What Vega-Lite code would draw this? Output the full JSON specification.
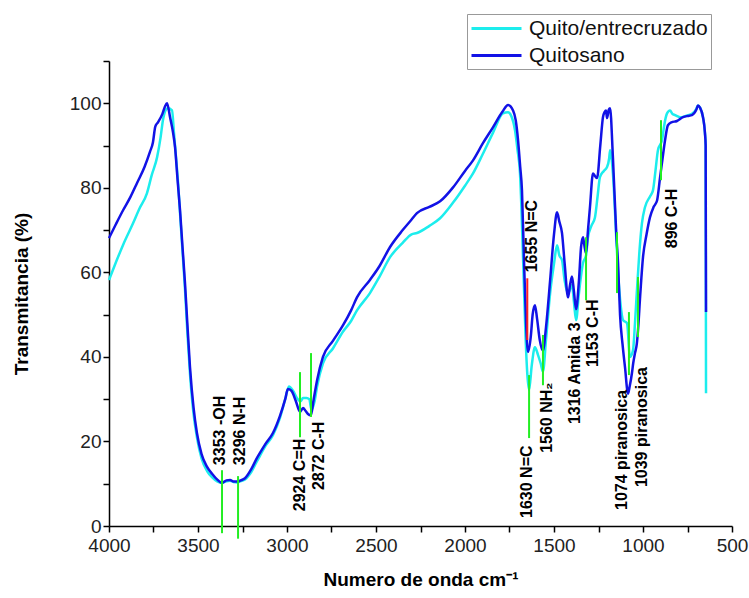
{
  "$schema": "https://vega.github.io/schema/vega-lite/v6.json",
  "width": 623,
  "height": 465,
  "autosize": {"type": "none"},
  "padding": {"left": 109, "top": 61, "right": 17, "bottom": 72},
  "background": "white",
  "config": {
    "view": {"stroke": null},
    "font": "Liberation Sans",
    "axis": {
      "grid": false,
      "domainColor": "#000",
      "domainWidth": 1.5,
      "tickColor": "#000",
      "tickWidth": 1.5,
      "tickSize": 6,
      "labelFont": "Liberation Sans",
      "labelFontSize": 19,
      "labelColor": "#222",
      "titleFont": "Liberation Sans",
      "titleFontSize": 19,
      "titleFontWeight": "bold",
      "titleColor": "#000"
    }
  },
  "datasets": {
    "spectra": [
      {"series": "Quito/entrecruzado", "wn": 4000, "t": 58.2},
      {"series": "Quito/entrecruzado", "wn": 3960, "t": 62.5},
      {"series": "Quito/entrecruzado", "wn": 3921, "t": 66.5},
      {"series": "Quito/entrecruzado", "wn": 3865, "t": 71.6},
      {"series": "Quito/entrecruzado", "wn": 3830, "t": 75},
      {"series": "Quito/entrecruzado", "wn": 3787, "t": 78.7},
      {"series": "Quito/entrecruzado", "wn": 3760, "t": 83},
      {"series": "Quito/entrecruzado", "wn": 3730, "t": 87.2},
      {"series": "Quito/entrecruzado", "wn": 3710, "t": 92},
      {"series": "Quito/entrecruzado", "wn": 3697, "t": 96},
      {"series": "Quito/entrecruzado", "wn": 3680, "t": 98.5},
      {"series": "Quito/entrecruzado", "wn": 3669, "t": 98.8},
      {"series": "Quito/entrecruzado", "wn": 3646, "t": 98.3},
      {"series": "Quito/entrecruzado", "wn": 3635, "t": 93},
      {"series": "Quito/entrecruzado", "wn": 3625, "t": 88},
      {"series": "Quito/entrecruzado", "wn": 3610, "t": 80},
      {"series": "Quito/entrecruzado", "wn": 3601, "t": 74},
      {"series": "Quito/entrecruzado", "wn": 3587, "t": 65},
      {"series": "Quito/entrecruzado", "wn": 3573, "t": 56},
      {"series": "Quito/entrecruzado", "wn": 3560, "t": 46},
      {"series": "Quito/entrecruzado", "wn": 3545, "t": 36},
      {"series": "Quito/entrecruzado", "wn": 3525, "t": 26.5},
      {"series": "Quito/entrecruzado", "wn": 3506, "t": 21},
      {"series": "Quito/entrecruzado", "wn": 3480, "t": 16},
      {"series": "Quito/entrecruzado", "wn": 3449, "t": 13},
      {"series": "Quito/entrecruzado", "wn": 3420, "t": 11.5},
      {"series": "Quito/entrecruzado", "wn": 3390, "t": 10.5},
      {"series": "Quito/entrecruzado", "wn": 3365, "t": 10.2},
      {"series": "Quito/entrecruzado", "wn": 3340, "t": 10.6},
      {"series": "Quito/entrecruzado", "wn": 3320, "t": 10.7},
      {"series": "Quito/entrecruzado", "wn": 3300, "t": 10.4},
      {"series": "Quito/entrecruzado", "wn": 3281, "t": 10.3},
      {"series": "Quito/entrecruzado", "wn": 3260, "t": 10.6},
      {"series": "Quito/entrecruzado", "wn": 3236, "t": 11},
      {"series": "Quito/entrecruzado", "wn": 3200, "t": 12.8},
      {"series": "Quito/entrecruzado", "wn": 3170, "t": 15.2},
      {"series": "Quito/entrecruzado", "wn": 3152, "t": 16.6},
      {"series": "Quito/entrecruzado", "wn": 3120, "t": 19},
      {"series": "Quito/entrecruzado", "wn": 3079, "t": 21.5},
      {"series": "Quito/entrecruzado", "wn": 3040, "t": 25.5},
      {"series": "Quito/entrecruzado", "wn": 3010, "t": 30},
      {"series": "Quito/entrecruzado", "wn": 2989, "t": 33},
      {"series": "Quito/entrecruzado", "wn": 2966, "t": 32},
      {"series": "Quito/entrecruzado", "wn": 2940, "t": 30},
      {"series": "Quito/entrecruzado", "wn": 2924, "t": 29.5},
      {"series": "Quito/entrecruzado", "wn": 2910, "t": 30.3},
      {"series": "Quito/entrecruzado", "wn": 2890, "t": 30.3},
      {"series": "Quito/entrecruzado", "wn": 2875, "t": 30},
      {"series": "Quito/entrecruzado", "wn": 2862, "t": 27.5},
      {"series": "Quito/entrecruzado", "wn": 2845, "t": 29.5},
      {"series": "Quito/entrecruzado", "wn": 2831, "t": 33},
      {"series": "Quito/entrecruzado", "wn": 2798, "t": 38.5},
      {"series": "Quito/entrecruzado", "wn": 2742, "t": 42},
      {"series": "Quito/entrecruzado", "wn": 2685, "t": 46},
      {"series": "Quito/entrecruzado", "wn": 2640, "t": 48.5},
      {"series": "Quito/entrecruzado", "wn": 2607, "t": 51},
      {"series": "Quito/entrecruzado", "wn": 2534, "t": 55.1},
      {"series": "Quito/entrecruzado", "wn": 2480, "t": 59},
      {"series": "Quito/entrecruzado", "wn": 2421, "t": 63.6},
      {"series": "Quito/entrecruzado", "wn": 2350, "t": 67},
      {"series": "Quito/entrecruzado", "wn": 2300, "t": 69},
      {"series": "Quito/entrecruzado", "wn": 2270, "t": 69.3},
      {"series": "Quito/entrecruzado", "wn": 2200, "t": 71},
      {"series": "Quito/entrecruzado", "wn": 2140, "t": 72.8},
      {"series": "Quito/entrecruzado", "wn": 2067, "t": 76.5},
      {"series": "Quito/entrecruzado", "wn": 2000, "t": 80.5},
      {"series": "Quito/entrecruzado", "wn": 1955, "t": 83.4},
      {"series": "Quito/entrecruzado", "wn": 1900, "t": 88},
      {"series": "Quito/entrecruzado", "wn": 1843, "t": 93},
      {"series": "Quito/entrecruzado", "wn": 1787, "t": 97.6},
      {"series": "Quito/entrecruzado", "wn": 1758, "t": 97.9},
      {"series": "Quito/entrecruzado", "wn": 1740, "t": 97},
      {"series": "Quito/entrecruzado", "wn": 1719, "t": 93.6},
      {"series": "Quito/entrecruzado", "wn": 1705, "t": 89},
      {"series": "Quito/entrecruzado", "wn": 1691, "t": 83.4},
      {"series": "Quito/entrecruzado", "wn": 1674, "t": 63.6},
      {"series": "Quito/entrecruzado", "wn": 1660, "t": 45},
      {"series": "Quito/entrecruzado", "wn": 1650, "t": 36},
      {"series": "Quito/entrecruzado", "wn": 1640, "t": 32.2},
      {"series": "Quito/entrecruzado", "wn": 1625, "t": 38},
      {"series": "Quito/entrecruzado", "wn": 1607, "t": 42.3},
      {"series": "Quito/entrecruzado", "wn": 1590, "t": 40.5},
      {"series": "Quito/entrecruzado", "wn": 1575, "t": 38.5},
      {"series": "Quito/entrecruzado", "wn": 1562, "t": 36.5},
      {"series": "Quito/entrecruzado", "wn": 1545, "t": 44},
      {"series": "Quito/entrecruzado", "wn": 1522, "t": 55},
      {"series": "Quito/entrecruzado", "wn": 1500, "t": 62},
      {"series": "Quito/entrecruzado", "wn": 1483, "t": 66.4},
      {"series": "Quito/entrecruzado", "wn": 1470, "t": 64},
      {"series": "Quito/entrecruzado", "wn": 1455, "t": 62.9},
      {"series": "Quito/entrecruzado", "wn": 1440, "t": 58},
      {"series": "Quito/entrecruzado", "wn": 1421, "t": 55},
      {"series": "Quito/entrecruzado", "wn": 1410, "t": 56},
      {"series": "Quito/entrecruzado", "wn": 1399, "t": 57},
      {"series": "Quito/entrecruzado", "wn": 1388, "t": 53},
      {"series": "Quito/entrecruzado", "wn": 1376, "t": 48.7},
      {"series": "Quito/entrecruzado", "wn": 1360, "t": 55},
      {"series": "Quito/entrecruzado", "wn": 1337, "t": 62.2},
      {"series": "Quito/entrecruzado", "wn": 1320, "t": 64},
      {"series": "Quito/entrecruzado", "wn": 1309, "t": 68.3},
      {"series": "Quito/entrecruzado", "wn": 1290, "t": 71},
      {"series": "Quito/entrecruzado", "wn": 1270, "t": 73},
      {"series": "Quito/entrecruzado", "wn": 1255, "t": 78},
      {"series": "Quito/entrecruzado", "wn": 1242, "t": 82.5},
      {"series": "Quito/entrecruzado", "wn": 1220, "t": 84},
      {"series": "Quito/entrecruzado", "wn": 1202, "t": 84.9},
      {"series": "Quito/entrecruzado", "wn": 1190, "t": 87},
      {"series": "Quito/entrecruzado", "wn": 1185, "t": 88.9},
      {"series": "Quito/entrecruzado", "wn": 1169, "t": 83.4},
      {"series": "Quito/entrecruzado", "wn": 1150, "t": 68},
      {"series": "Quito/entrecruzado", "wn": 1140, "t": 60},
      {"series": "Quito/entrecruzado", "wn": 1125, "t": 52},
      {"series": "Quito/entrecruzado", "wn": 1112, "t": 48.7},
      {"series": "Quito/entrecruzado", "wn": 1090, "t": 48},
      {"series": "Quito/entrecruzado", "wn": 1073, "t": 40},
      {"series": "Quito/entrecruzado", "wn": 1056, "t": 41.6},
      {"series": "Quito/entrecruzado", "wn": 1045, "t": 48},
      {"series": "Quito/entrecruzado", "wn": 1034, "t": 55.8},
      {"series": "Quito/entrecruzado", "wn": 1020, "t": 65},
      {"series": "Quito/entrecruzado", "wn": 1006, "t": 71.6},
      {"series": "Quito/entrecruzado", "wn": 989, "t": 75.4},
      {"series": "Quito/entrecruzado", "wn": 960, "t": 78},
      {"series": "Quito/entrecruzado", "wn": 944, "t": 79.4},
      {"series": "Quito/entrecruzado", "wn": 930, "t": 84},
      {"series": "Quito/entrecruzado", "wn": 916, "t": 88.9},
      {"series": "Quito/entrecruzado", "wn": 893, "t": 91.3},
      {"series": "Quito/entrecruzado", "wn": 880, "t": 95},
      {"series": "Quito/entrecruzado", "wn": 865, "t": 97.6},
      {"series": "Quito/entrecruzado", "wn": 848, "t": 98.3},
      {"series": "Quito/entrecruzado", "wn": 835, "t": 97.5},
      {"series": "Quito/entrecruzado", "wn": 820, "t": 97.2},
      {"series": "Quito/entrecruzado", "wn": 792, "t": 96.7},
      {"series": "Quito/entrecruzado", "wn": 760, "t": 97},
      {"series": "Quito/entrecruzado", "wn": 725, "t": 97.5},
      {"series": "Quito/entrecruzado", "wn": 700, "t": 98.7},
      {"series": "Quito/entrecruzado", "wn": 691, "t": 99.5},
      {"series": "Quito/entrecruzado", "wn": 680, "t": 99},
      {"series": "Quito/entrecruzado", "wn": 663, "t": 96.7},
      {"series": "Quito/entrecruzado", "wn": 652, "t": 93},
      {"series": "Quito/entrecruzado", "wn": 648, "t": 90},
      {"series": "Quito/entrecruzado", "wn": 646, "t": 31.4},
      {"series": "Quitosano", "wn": 4000, "t": 68.1},
      {"series": "Quitosano", "wn": 3960, "t": 71.5},
      {"series": "Quitosano", "wn": 3921, "t": 74.7},
      {"series": "Quitosano", "wn": 3880, "t": 77.8},
      {"series": "Quitosano", "wn": 3843, "t": 81.1},
      {"series": "Quitosano", "wn": 3800, "t": 85},
      {"series": "Quitosano", "wn": 3770, "t": 88.5},
      {"series": "Quitosano", "wn": 3753, "t": 90.8},
      {"series": "Quitosano", "wn": 3740, "t": 94.5},
      {"series": "Quitosano", "wn": 3725, "t": 95.5},
      {"series": "Quitosano", "wn": 3700, "t": 97.5},
      {"series": "Quitosano", "wn": 3685, "t": 99.3},
      {"series": "Quitosano", "wn": 3674, "t": 100},
      {"series": "Quitosano", "wn": 3657, "t": 96.7},
      {"series": "Quitosano", "wn": 3640, "t": 93},
      {"series": "Quitosano", "wn": 3629, "t": 89.6},
      {"series": "Quitosano", "wn": 3615, "t": 82},
      {"series": "Quitosano", "wn": 3601, "t": 74.7},
      {"series": "Quitosano", "wn": 3587, "t": 66},
      {"series": "Quitosano", "wn": 3573, "t": 57.4},
      {"series": "Quitosano", "wn": 3560, "t": 48},
      {"series": "Quitosano", "wn": 3545, "t": 37.6},
      {"series": "Quitosano", "wn": 3525, "t": 28},
      {"series": "Quitosano", "wn": 3506, "t": 22},
      {"series": "Quitosano", "wn": 3480, "t": 17},
      {"series": "Quitosano", "wn": 3449, "t": 14},
      {"series": "Quitosano", "wn": 3420, "t": 12.3},
      {"series": "Quitosano", "wn": 3390, "t": 10.9},
      {"series": "Quitosano", "wn": 3365, "t": 10.2},
      {"series": "Quitosano", "wn": 3340, "t": 10.8},
      {"series": "Quitosano", "wn": 3320, "t": 10.9},
      {"series": "Quitosano", "wn": 3300, "t": 10.5},
      {"series": "Quitosano", "wn": 3281, "t": 10.5},
      {"series": "Quitosano", "wn": 3260, "t": 10.8},
      {"series": "Quitosano", "wn": 3236, "t": 11.3},
      {"series": "Quitosano", "wn": 3200, "t": 13.5},
      {"series": "Quitosano", "wn": 3170, "t": 16},
      {"series": "Quitosano", "wn": 3152, "t": 17.3},
      {"series": "Quitosano", "wn": 3120, "t": 19.5},
      {"series": "Quitosano", "wn": 3079, "t": 22},
      {"series": "Quitosano", "wn": 3040, "t": 26},
      {"series": "Quitosano", "wn": 3010, "t": 30},
      {"series": "Quitosano", "wn": 2995, "t": 32.4},
      {"series": "Quitosano", "wn": 2975, "t": 32},
      {"series": "Quitosano", "wn": 2950, "t": 29.5},
      {"series": "Quitosano", "wn": 2927, "t": 27},
      {"series": "Quitosano", "wn": 2910, "t": 27.9},
      {"series": "Quitosano", "wn": 2895, "t": 27.2},
      {"series": "Quitosano", "wn": 2882, "t": 26.5},
      {"series": "Quitosano", "wn": 2866, "t": 26.2},
      {"series": "Quitosano", "wn": 2850, "t": 30},
      {"series": "Quitosano", "wn": 2831, "t": 34.5},
      {"series": "Quitosano", "wn": 2798, "t": 40},
      {"series": "Quitosano", "wn": 2742, "t": 43.8},
      {"series": "Quitosano", "wn": 2685, "t": 47.5},
      {"series": "Quitosano", "wn": 2640, "t": 51},
      {"series": "Quitosano", "wn": 2607, "t": 54.1},
      {"series": "Quitosano", "wn": 2534, "t": 58.2},
      {"series": "Quitosano", "wn": 2480, "t": 61.5},
      {"series": "Quitosano", "wn": 2421, "t": 66},
      {"series": "Quitosano", "wn": 2350, "t": 70},
      {"series": "Quitosano", "wn": 2300, "t": 72.5},
      {"series": "Quitosano", "wn": 2270, "t": 74},
      {"series": "Quitosano", "wn": 2200, "t": 75.5},
      {"series": "Quitosano", "wn": 2140, "t": 76.8},
      {"series": "Quitosano", "wn": 2067, "t": 80.1},
      {"series": "Quitosano", "wn": 2000, "t": 84},
      {"series": "Quitosano", "wn": 1955, "t": 86.5},
      {"series": "Quitosano", "wn": 1900, "t": 90.5},
      {"series": "Quitosano", "wn": 1843, "t": 94.3},
      {"series": "Quitosano", "wn": 1790, "t": 98},
      {"series": "Quitosano", "wn": 1758, "t": 99.6},
      {"series": "Quitosano", "wn": 1730, "t": 98.3},
      {"series": "Quitosano", "wn": 1715, "t": 96},
      {"series": "Quitosano", "wn": 1702, "t": 91.3},
      {"series": "Quitosano", "wn": 1690, "t": 85},
      {"series": "Quitosano", "wn": 1680, "t": 79.4},
      {"series": "Quitosano", "wn": 1669, "t": 63.6},
      {"series": "Quitosano", "wn": 1657, "t": 48},
      {"series": "Quitosano", "wn": 1646, "t": 41.2},
      {"series": "Quitosano", "wn": 1630, "t": 45},
      {"series": "Quitosano", "wn": 1620, "t": 50},
      {"series": "Quitosano", "wn": 1607, "t": 52.2},
      {"series": "Quitosano", "wn": 1595, "t": 49},
      {"series": "Quitosano", "wn": 1580, "t": 44},
      {"series": "Quitosano", "wn": 1562, "t": 41.5},
      {"series": "Quitosano", "wn": 1545, "t": 47},
      {"series": "Quitosano", "wn": 1522, "t": 58},
      {"series": "Quitosano", "wn": 1500, "t": 69},
      {"series": "Quitosano", "wn": 1483, "t": 74.2},
      {"series": "Quitosano", "wn": 1470, "t": 72},
      {"series": "Quitosano", "wn": 1455, "t": 69.3},
      {"series": "Quitosano", "wn": 1440, "t": 62},
      {"series": "Quitosano", "wn": 1421, "t": 54.1},
      {"series": "Quitosano", "wn": 1410, "t": 57},
      {"series": "Quitosano", "wn": 1399, "t": 59},
      {"series": "Quitosano", "wn": 1388, "t": 55.5},
      {"series": "Quitosano", "wn": 1376, "t": 51.3},
      {"series": "Quitosano", "wn": 1360, "t": 58},
      {"series": "Quitosano", "wn": 1348, "t": 66},
      {"series": "Quitosano", "wn": 1337, "t": 68.3},
      {"series": "Quitosano", "wn": 1330, "t": 66.5},
      {"series": "Quitosano", "wn": 1320, "t": 64.5},
      {"series": "Quitosano", "wn": 1309, "t": 70},
      {"series": "Quitosano", "wn": 1298, "t": 75.4},
      {"series": "Quitosano", "wn": 1281, "t": 83.4},
      {"series": "Quitosano", "wn": 1270, "t": 82.8},
      {"series": "Quitosano", "wn": 1258, "t": 82.3},
      {"series": "Quitosano", "wn": 1240, "t": 90},
      {"series": "Quitosano", "wn": 1225, "t": 96.7},
      {"series": "Quitosano", "wn": 1215, "t": 98},
      {"series": "Quitosano", "wn": 1208, "t": 98.3},
      {"series": "Quitosano", "wn": 1202, "t": 96.5},
      {"series": "Quitosano", "wn": 1192, "t": 98.5},
      {"series": "Quitosano", "wn": 1185, "t": 98.8},
      {"series": "Quitosano", "wn": 1169, "t": 87.2},
      {"series": "Quitosano", "wn": 1150, "t": 69},
      {"series": "Quitosano", "wn": 1140, "t": 62},
      {"series": "Quitosano", "wn": 1129, "t": 50},
      {"series": "Quitosano", "wn": 1115, "t": 43},
      {"series": "Quitosano", "wn": 1101, "t": 37.5},
      {"series": "Quitosano", "wn": 1084, "t": 31.3},
      {"series": "Quitosano", "wn": 1075, "t": 33},
      {"series": "Quitosano", "wn": 1062, "t": 36.2},
      {"series": "Quitosano", "wn": 1055, "t": 38.5},
      {"series": "Quitosano", "wn": 1045, "t": 40.9},
      {"series": "Quitosano", "wn": 1035, "t": 43},
      {"series": "Quitosano", "wn": 1028, "t": 46.3},
      {"series": "Quitosano", "wn": 1015, "t": 55},
      {"series": "Quitosano", "wn": 1000, "t": 63.6},
      {"series": "Quitosano", "wn": 980, "t": 69},
      {"series": "Quitosano", "wn": 961, "t": 73},
      {"series": "Quitosano", "wn": 940, "t": 75.5},
      {"series": "Quitosano", "wn": 921, "t": 77},
      {"series": "Quitosano", "wn": 904, "t": 82.5},
      {"series": "Quitosano", "wn": 890, "t": 87},
      {"series": "Quitosano", "wn": 876, "t": 91.3},
      {"series": "Quitosano", "wn": 860, "t": 94.8},
      {"series": "Quitosano", "wn": 840, "t": 95.5},
      {"series": "Quitosano", "wn": 809, "t": 95.8},
      {"series": "Quitosano", "wn": 775, "t": 96.7},
      {"series": "Quitosano", "wn": 750, "t": 97},
      {"series": "Quitosano", "wn": 725, "t": 97.2},
      {"series": "Quitosano", "wn": 700, "t": 98.5},
      {"series": "Quitosano", "wn": 691, "t": 99.5},
      {"series": "Quitosano", "wn": 680, "t": 99},
      {"series": "Quitosano", "wn": 663, "t": 96.7},
      {"series": "Quitosano", "wn": 652, "t": 93},
      {"series": "Quitosano", "wn": 648, "t": 90},
      {"series": "Quitosano", "wn": 646, "t": 50.6}
    ],
    "bands": [
      {"wn": 3365, "top": 13.2, "bottom": -1.7},
      {"wn": 3275, "top": 11.8, "bottom": -3},
      {"wn": 2927, "top": 36.4, "bottom": 21},
      {"wn": 2865, "top": 40.9, "bottom": 25.8},
      {"wn": 1640, "top": 35.7, "bottom": 20.8},
      {"wn": 1562, "top": 45.2, "bottom": 33.3},
      {"wn": 1320, "top": 68.3, "bottom": 53.4},
      {"wn": 1146, "top": 69.5, "bottom": 55.1},
      {"wn": 1079, "top": 50.6, "bottom": 35.7},
      {"wn": 1028, "top": 58.9, "bottom": 44.7},
      {"wn": 899, "top": 96, "bottom": 81.8}
    ],
    "redband": [
      {"wn": 1650, "top": 58.6, "bottom": 44}
    ],
    "labels": [
      {"wn": 3376, "t": 14.4, "label": "3353 -OH"},
      {"wn": 3264, "t": 14.4, "label": "3296 N-H"},
      {"wn": 2927, "t": 3.5, "label": "2924 C=H"},
      {"wn": 2820, "t": 8.5, "label": "2872 C-H"},
      {"wn": 1624, "t": 60, "label": "1655 N=C"},
      {"wn": 1652, "t": 1.9, "label": "1630 N=C"},
      {"wn": 1539, "t": 17.3, "label": "1560 NH₂"},
      {"wn": 1382, "t": 24.1, "label": "1316 Amida 3"},
      {"wn": 1281, "t": 37.6, "label": "1153 C-H"},
      {"wn": 1118, "t": 3.8, "label": "1074 piranosica"},
      {"wn": 1006, "t": 9.2, "label": "1039 piranosica"},
      {"wn": 837, "t": 65.7, "label": "896 C-H"}
    ]
  },
  "encoding": {
    "x": {
      "field": "wn",
      "type": "quantitative",
      "scale": {"domain": [500, 4000], "reverse": true, "nice": false, "zero": false},
      "axis": {
        "title": "Numero de onda cm⁻¹",
        "values": [500, 750, 1000, 1250, 1500, 1750, 2000, 2250, 2500, 2750, 3000, 3250, 3500, 3750, 4000],
        "labelExpr": "datum.value % 500 === 0 ? datum.value : ''",
        "labelPadding": 4,
        "titlePadding": 15,
        "labelFlush": false,
        "labelOverlap": false
      }
    },
    "y": {
      "field": "t",
      "type": "quantitative",
      "scale": {"domain": [0, 110], "nice": false, "zero": false},
      "axis": {
        "title": "Transmitancia (%)",
        "values": [0, 10, 20, 30, 40, 50, 60, 70, 80, 90, 100, 110],
        "labelExpr": "datum.value % 20 === 0 && datum.value <= 100 ? datum.value : ''",
        "labelPadding": 2,
        "titlePadding": 38,
        "labelFlush": false,
        "labelOverlap": false
      }
    }
  },
  "layer": [
    {
      "data": {"name": "spectra"},
      "transform": [{"filter": "datum.series === 'Quito/entrecruzado'"}],
      "mark": {"type": "line", "strokeWidth": 2.5, "interpolate": "monotone"},
      "encoding": {
        "color": {
          "field": "series",
          "type": "nominal",
          "scale": {"domain": ["Quito/entrecruzado", "Quitosano"], "range": ["#1CEDED", "#1212E6"]},
          "legend": {
            "title": null,
            "orient": "none",
            "legendX": 358,
            "legendY": -47,
            "symbolType": "M-1,0H4",
            "symbolSize": 400,
            "symbolStrokeWidth": 3,
            "labelFont": "Liberation Sans",
            "labelFontSize": 21,
            "labelColor": "#111",
            "labelLimit": 400,
            "labelOffset": 36,
            "strokeColor": "#999",
            "fillColor": "white",
            "padding": 3,
            "rowPadding": 5
          }
        }
      }
    },
    {
      "data": {"name": "spectra"},
      "transform": [{"filter": "datum.series === 'Quitosano'"}],
      "mark": {"type": "line", "strokeWidth": 2.5, "interpolate": "monotone"},
      "encoding": {
        "color": {"field": "series", "type": "nominal"}
      }
    },
    {
      "data": {"name": "bands"},
      "mark": {"type": "rule", "color": "#22EE22", "strokeWidth": 2},
      "encoding": {
        "y": {"field": "top", "type": "quantitative"},
        "y2": {"field": "bottom"}
      }
    },
    {
      "data": {"name": "redband"},
      "mark": {"type": "rule", "color": "#FF2020", "strokeWidth": 2},
      "encoding": {
        "y": {"field": "top", "type": "quantitative"},
        "y2": {"field": "bottom"}
      }
    },
    {
      "data": {"name": "labels"},
      "mark": {"type": "text", "angle": 270, "align": "left", "baseline": "middle", "font": "Liberation Sans", "fontWeight": "bold", "fontSize": 16, "color": "#000"},
      "encoding": {
        "text": {"field": "label"}
      }
    }
  ]
}
